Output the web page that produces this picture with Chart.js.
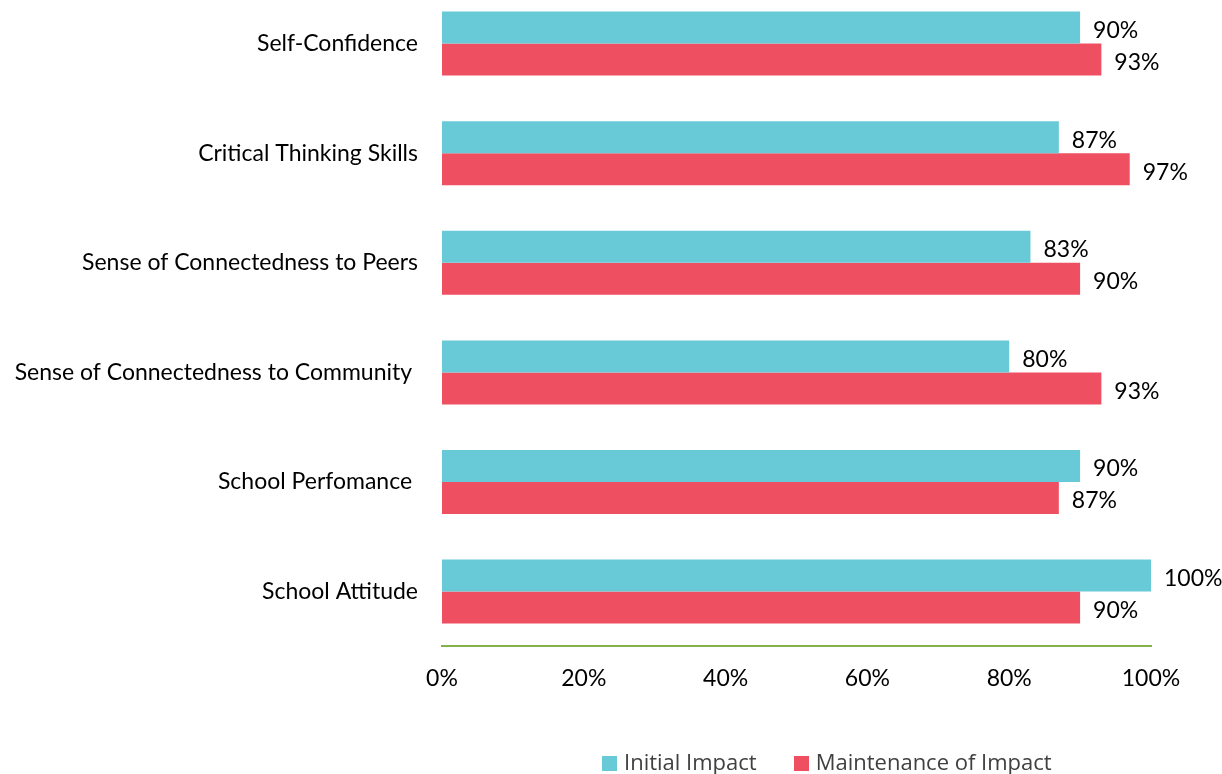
<!DOCTYPE html>
<html lang="en">
<head>
    <meta charset="UTF-8">
    <title>Impact</title>
    <script src="https://cdn.jsdelivr.net/npm/chart.js"></script>
    <style>
        body {
            margin: 0px;
            width: 1222px;
            height: 774px;
            overflow: hidden;
            position: relative;
            background: white;
        }
        .wrap {
            /* chart area starts slightly above the page top in the reference */
            position: absolute;
            left: 0px;
            top: -41px;
            width: 1222px;
            height: 839px;
        }
        .legend {
            position: absolute;
            top: 746px;
            left: 602px;
            font-family: "Open Sans", sans-serif;
            font-size: 22px;
            color: #404040;
            white-space: nowrap;
        }
        .legend span.item {
            margin-right: 37px;
        }
        .legend span.box {
            display: inline-block;
            width: 15px;
            height: 15px;
            margin-right: 7px;
            vertical-align: -1px;
        }
    </style>
</head>
<body>

<div class="wrap">
    <canvas id="graph1"></canvas>
</div>
<div class="legend" id="legend"></div>

<script>
    const categories = ["Self-Confidence", "Critical Thinking Skills", "Sense of Connectedness to Peers",
        "Sense of Connectedness to Community ", "School Perfomance ", "School Attitude"];
    const initialImpact = [90, 87, 83, 80, 90, 100];
    const maintenanceImpact = [93, 97, 90, 93, 87, 90];
    const xTicks = [0, 20, 40, 60, 80, 100];

    // value labels drawn at the end of each bar
    const barLabels = {
        id: 'barLabels',
        afterDatasetsDraw(chart) {
            const ctx = chart.ctx;
            ctx.save();
            ctx.font = '23px Lato';
            ctx.fillStyle = '#000000';
            ctx.textBaseline = 'middle';
            chart.data.datasets.forEach(function(ds, i) {
                chart.getDatasetMeta(i).data.forEach(function(bar, j) {
                    ctx.fillText(ds.data[j] + '%', bar.x + 13, bar.y + 3);
                });
            });
            ctx.restore();
        }
    };

    const config = {
        type: 'bar',
        data: {
            labels: categories,
            datasets: [{
                label: 'Initial Impact',
                backgroundColor: '#68C9D7',
                data: initialImpact,
                categoryPercentage: 0.584,
                barPercentage: 1.0
            }, {
                label: 'Maintenance of Impact',
                backgroundColor: '#EF5061',
                data: maintenanceImpact,
                categoryPercentage: 0.584,
                barPercentage: 1.0
            }]
        },
        options: {
            indexAxis: 'y',
            responsive: false,
            animation: false,
            layout: { padding: { left: 0, right: 71, top: 1, bottom: 96 } },
            plugins: {
                legend: { display: false },
                tooltip: { enabled: false }
            },
            scales: {
                x: {
                    min: 0,
                    max: 100,
                    afterBuildTicks: function(scale) {
                        scale.ticks = xTicks.map(v => ({ value: v }));
                    },
                    grid: { display: false },
                    border: { color: '#84B14A', width: 2 },
                    ticks: {
                        color: '#000000',
                        font: { family: 'Lato', size: 23 },
                        padding: 10,
                        callback: v => v + '%'
                    }
                },
                y: {
                    afterFit: function(scale) { scale.width = 442; },
                    grid: { display: false },
                    border: { display: false },
                    ticks: {
                        color: '#000000',
                        font: { family: 'Lato', size: 23 },
                        padding: 16
                    }
                }
            }
        },
        plugins: [barLabels]
    };

    const canvas = document.getElementById('graph1');
    canvas.width = 1222;
    canvas.height = 839;
    const graph1 = new Chart(canvas, config);

    // html legend from the datasets
    const legend = document.getElementById('legend');
    config.data.datasets.forEach(function(ds) {
        const item = document.createElement('span');
        item.className = 'item';
        item.innerHTML = '<span class="box" style="background:' + ds.backgroundColor + '"></span>' + ds.label;
        legend.appendChild(item);
    });
</script>
</body>
</html>
